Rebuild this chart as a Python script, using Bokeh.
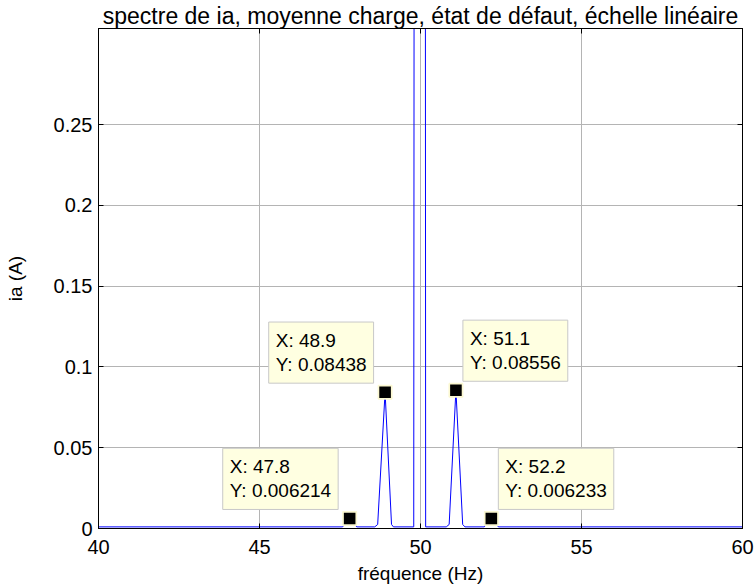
from bokeh.plotting import figure
from bokeh.models import Range1d, FixedTicker, LinearAxis, Label, CustomJSTickFormatter
from bokeh.embed import file_html
from bokeh.resources import INLINE

# Spectrum of phase current ia (average load, faulty machine), 40-60 Hz window
freq_hz = [40.0, 47.58, 47.8, 48.02, 48.58, 48.67, 48.9, 49.1, 49.16, 49.79, 50.0,
           50.16, 50.8, 50.89, 51.1, 51.31, 51.38, 51.98, 52.2, 52.42, 60.0]
ia_amp = [0.0010, 0.0010, 0.006214, 0.0010, 0.0010, 0.0025, 0.08438, 0.0025, 0.0010,
          0.0010, 6.5, 0.0010, 0.0010, 0.0025, 0.08556, 0.0025, 0.0010, 0.0010,
          0.006233, 0.0010, 0.0010]

# Data cursors on the fault side-bands
tip_x = [47.8, 48.9, 51.1, 52.2]
tip_y = [0.006214, 0.08438, 0.08556, 0.006233]
tip_side = ["left", "left", "right", "right"]

x_ticks = [40, 45, 50, 55, 60]
y_ticks = [0, 0.05, 0.1, 0.15, 0.2, 0.25]

title_text = "spectre de ia, moyenne charge, état de défaut, échelle linéaire"
x_label = "fréquence (Hz)"
y_label = "ia (A)"

FONT = "Liberation Sans"

p = figure(width=755, height=588, output_backend="svg", toolbar_location=None,
           x_range=Range1d(40, 60), y_range=Range1d(0, 0.3095),
           min_border_left=98, min_border_right=13, min_border_top=22,
           min_border_bottom=60, title=title_text)

p.background_fill_color = "white"
p.border_fill_color = "white"
p.outline_line_color = "black"
p.outline_line_width = 1

p.title.align = "center"
p.title.text_font = FONT
p.title.text_font_size = "23px"
p.title.text_font_style = "normal"
p.title.text_color = "black"
p.title.text_line_height = 0.75
p.title.standoff = 0
p.title.offset = 0

fmt = CustomJSTickFormatter(code="return String(Number(tick.toFixed(4)));")

for ax, ticks in ((p.xaxis[0], x_ticks), (p.yaxis[0], y_ticks)):
    ax.ticker = FixedTicker(ticks=ticks)
    ax.formatter = fmt
    ax.major_tick_in = 5
    ax.major_tick_out = 0
    ax.minor_tick_in = 0
    ax.minor_tick_out = 0
    ax.axis_line_color = "black"
    ax.major_tick_line_color = "black"
    ax.major_label_text_font = FONT
    ax.major_label_text_font_size = "20px"
    ax.major_label_text_color = "black"
    ax.axis_label_text_font = FONT
    ax.axis_label_text_font_size = "19px"
    ax.axis_label_text_font_style = "normal"
    ax.axis_label_text_color = "black"

p.xaxis.axis_label = x_label
p.yaxis.axis_label = y_label
p.xaxis.major_label_standoff = 11
p.yaxis.major_label_standoff = 6
p.xaxis.axis_label_standoff = 6
p.yaxis.axis_label_standoff = 25

# Mirror ticks on the top and right edges of the box
for side, ticks in (("above", x_ticks), ("right", y_ticks)):
    ax = LinearAxis(ticker=FixedTicker(ticks=ticks), major_tick_in=5, major_tick_out=0,
                    minor_tick_in=0, minor_tick_out=0, major_label_text_font_size="0px",
                    major_label_standoff=0, axis_line_color="black")
    p.add_layout(ax, side)

p.xgrid.ticker = FixedTicker(ticks=x_ticks)
p.ygrid.ticker = FixedTicker(ticks=y_ticks)
for g in (p.xgrid[0], p.ygrid[0]):
    g.grid_line_color = "#b4b4b4"
    g.grid_line_width = 1

p.line(freq_hz, ia_amp, line_color="#0000ff", line_width=1)

# Data tip markers and their text boxes
p.scatter(tip_x, tip_y, marker="square", size=13.3, fill_color="black",
          line_color="#fbf8d2", line_width=1.7)

for x, y, side in zip(tip_x, tip_y, tip_side):
    left = side == "left"
    p.add_layout(Label(
        x=x, y=y, text=f"X: {x}\nY: {y}",
        anchor="bottom_right" if left else "bottom_left",
        text_align="left", text_baseline="bottom",
        x_offset=-11.5 if left else 7, y_offset=9,
        text_font=FONT, text_font_size="19px", text_color="black",
        text_line_height=1.15,
        background_fill_color="#ffffe1", border_line_color="#c8c8c8",
        border_line_width=1, padding=(7, 8)))

open("out.html", "w").write(file_html(p, INLINE))
